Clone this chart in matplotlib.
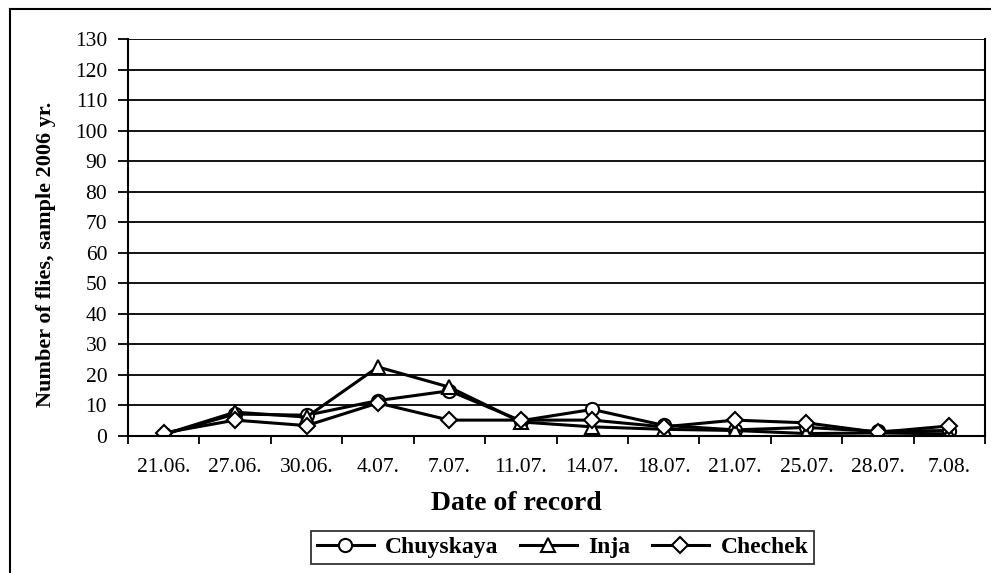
import matplotlib.pyplot as plt
from matplotlib.lines import Line2D

plt.rcParams['font.family'] = ['Liberation Serif', 'DejaVu Serif']

# data
dates = ['21.06.', '27.06.', '30.06.', '4.07.', '7.07.', '11.07.',
         '14.07.', '18.07.', '21.07.', '25.07.', '28.07.', '7.08.']
chuyskaya = [0.5, 7.2, 6.8, 11.6, 14.8, 5.0, 8.7, 3.5, 2.0, 2.8, 1.5, 1.8]
inja = [0.5, 7.8, 6.2, 22.6, 16.0, 4.6, 3.0, 2.2, 1.8, 0.8, 1.0, 0.7]
chechek = [1.0, 5.2, 3.4, 10.8, 5.2, 5.2, 5.2, 3.0, 5.2, 4.3, 1.2, 3.3]
y_ticks = list(range(0, 131, 10))

fig = plt.figure(figsize=(9.91, 5.73), dpi=100)
ax = fig.add_axes([128 / 991, 1 - 436 / 573, (985 - 128) / 991, (436 - 39) / 573])

x = list(range(len(dates)))
style = dict(color='black', lw=2.2, markerfacecolor='white', markeredgecolor='black',
             markeredgewidth=1.5)
ax.plot(x, chuyskaya, marker='o', ms=9.5, label='Chuyskaya', **style)
ax.plot(x, inja, marker='^', ms=10.5, label='Inja', **style)
ax.plot(x, chechek, marker='D', ms=8.5, label='Chechek', **style)

ax.set_xlim(-0.5, len(dates) - 0.5)
ax.set_ylim(0, 130)
ax.set_yticks(y_ticks)
ax.set_yticklabels([str(v) for v in y_ticks])
ax.yaxis.grid(True, color='black', lw=1.3)
ax.set_axisbelow(True)

# category ticks sit between the dates, labels centered on them
ax.set_xticks([i - 0.5 for i in range(len(dates) + 1)])
ax.set_xticklabels([''] * (len(dates) + 1))
ax.set_xticks(x, minor=True)
ax.set_xticklabels(dates, minor=True)
ax.tick_params(axis='x', which='major', length=6, width=1.3, direction='out')
ax.tick_params(axis='x', which='minor', length=0, pad=16, labelsize=15.5)
ax.tick_params(axis='y', length=7, width=1.3, direction='out', pad=8, labelsize=15.5)

for s in ['left', 'bottom', 'right']:
    ax.spines[s].set_linewidth(1.5)
ax.spines['top'].set_visible(False)

fig.text(46 / 991, 1 - 254 / 573, 'Number of flies, sample 2006 yr.', rotation=90,
         ha='center', va='center', fontsize=16, fontweight='bold')
fig.text(516 / 991, 1 - 504 / 573, 'Date of record', ha='center', va='center',
         fontsize=20, fontweight='bold')

leg = fig.legend(loc='upper left', bbox_to_anchor=(311 / 991, 1 - 531 / 573), ncol=3,
                 frameon=True, fancybox=False, edgecolor='black',
                 prop={'weight': 'bold', 'size': 17}, handlelength=2.4,
                 columnspacing=0.9, handletextpad=0.5, borderpad=0.25,
                 borderaxespad=0)
leg.get_frame().set_linewidth(1.3)

# outer frame of the picture
fig.add_artist(Line2D([10 / 991, 10 / 991], [0, 1 - 9 / 573], color='black', lw=1.5))
fig.add_artist(Line2D([10 / 991, 1], [1 - 9 / 573, 1 - 9 / 573], color='black', lw=1.5))

fig.savefig('out.png', dpi=100)
